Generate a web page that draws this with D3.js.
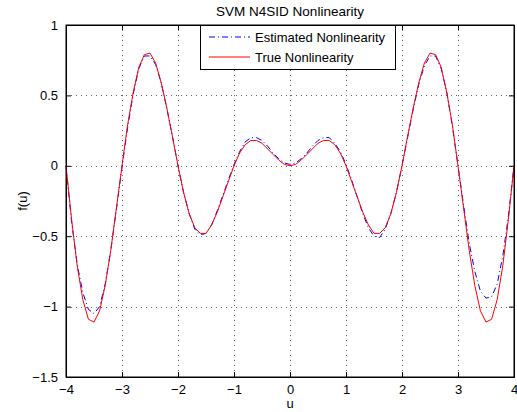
<!DOCTYPE html>
<html>
<head>
<meta charset="utf-8">
<script src="https://cdn.jsdelivr.net/npm/d3@7"></script>
<style>
  body { margin: 0; background: #fff; }
  text { font-family: "Liberation Sans", Arial, sans-serif; fill: #000; }
</style>
</head>
<body>
<div id="chart"></div>
<script>
// input grid
var uValues = [-4.0, -3.9, -3.8, -3.7, -3.6, -3.5, -3.4, -3.3, -3.2, -3.1,
    -3.0, -2.9, -2.8, -2.7, -2.6, -2.5, -2.4, -2.3, -2.2, -2.1,
    -2.0, -1.9, -1.8, -1.7, -1.6, -1.5, -1.4, -1.3, -1.2, -1.1,
    -1.0, -0.9, -0.8, -0.7, -0.6, -0.5, -0.4, -0.3, -0.2, -0.1,
    0.0, 0.1, 0.2, 0.3, 0.4, 0.5, 0.6, 0.7, 0.8, 0.9,
    1.0, 1.1, 1.2, 1.3, 1.4, 1.5, 1.6, 1.7, 1.8, 1.9,
    2.0, 2.1, 2.2, 2.3, 2.4, 2.5, 2.6, 2.7, 2.8, 2.9,
    3.0, 3.1, 3.2, 3.3, 3.4, 3.5, 3.6, 3.7, 3.8, 3.9, 4.0];

// true nonlinearity
var trueValues = [0, -0.38, -0.71, -0.95, -1.09, -1.11, -1.03, -0.85, -0.60, -0.30,
    0, 0.29, 0.52, 0.70, 0.79, 0.80, 0.73, 0.59, 0.41, 0.21,
    0, -0.19, -0.34, -0.44, -0.48, -0.48, -0.42, -0.33, -0.22, -0.11,
    0, 0.09, 0.15, 0.18, 0.18, 0.16, 0.12, 0.08, 0.04, 0.01,
    0, 0.01, 0.04, 0.08, 0.12, 0.16, 0.18, 0.18, 0.15, 0.09,
    0, -0.11, -0.22, -0.33, -0.42, -0.48, -0.48, -0.44, -0.34, -0.19,
    0, 0.21, 0.41, 0.59, 0.73, 0.80, 0.79, 0.70, 0.52, 0.29,
    0, -0.30, -0.60, -0.85, -1.03, -1.11, -1.09, -0.95, -0.71, -0.38, 0];

// estimated nonlinearity
var estValues = [0, -0.40, -0.70, -0.90, -1.02, -1.05, -1.00, -0.84, -0.60, -0.31,
    -0.01, 0.27, 0.51, 0.69, 0.78, 0.78, 0.72, 0.59, 0.41, 0.21,
    0, -0.19, -0.34, -0.45, -0.49, -0.48, -0.42, -0.32, -0.21, -0.10,
    0.01, 0.10, 0.17, 0.20, 0.20, 0.18, 0.14, 0.09, 0.05, 0.02,
    0.01, 0.02, 0.05, 0.09, 0.14, 0.18, 0.20, 0.20, 0.16, 0.10,
    0.01, -0.10, -0.22, -0.34, -0.44, -0.50, -0.51, -0.45, -0.34, -0.19,
    0, 0.20, 0.40, 0.58, 0.71, 0.78, 0.78, 0.69, 0.52, 0.28,
    0, -0.28, -0.55, -0.75, -0.89, -0.94, -0.93, -0.84, -0.64, -0.36, 0];

var xTicks = [-4, -3, -2, -1, 0, 1, 2, 3, 4];
var xTickLabels = ["\u22124", "\u22123", "\u22122", "\u22121", "0", "1", "2", "3", "4"];
var yTicks = [-1.5, -1, -0.5, 0, 0.5, 1];
var yTickLabels = ["\u22121.5", "\u22121", "\u22120.5", "0", "0.5", "1"];
var seriesNames = ["Estimated Nonlinearity", "True Nonlinearity"];

var margin = {top: 25, right: 3, bottom: 35, left: 66},
    width = 517 - margin.left - margin.right,
    height = 412 - margin.top - margin.bottom;

var svg = d3.select("#chart")
    .append("svg")
    .attr("width", 517)
    .attr("height", 412)
    .append("g")
    .attr("transform", "translate(" + margin.left + "," + margin.top + ")");

var x = d3.scaleLinear().domain([-4, 4]).range([0, width]);
var y = d3.scaleLinear().domain([-1.5, 1]).range([height, 0]);

// grid
svg.append("g").selectAll("line")
    .data(xTicks.slice(1, -1))
    .enter().append("line")
    .attr("x1", d => Math.round(x(d)) + 0.5).attr("x2", d => Math.round(x(d)) + 0.5)
    .attr("y1", 0).attr("y2", height)
    .attr("stroke", "#666").attr("stroke-width", 1)
    .attr("stroke-dasharray", "1,4");
svg.append("g").selectAll("line")
    .data(yTicks.slice(1, -1))
    .enter().append("line")
    .attr("y1", d => Math.round(y(d)) + 0.5).attr("y2", d => Math.round(y(d)) + 0.5)
    .attr("x1", 0).attr("x2", width)
    .attr("stroke", "#666").attr("stroke-width", 1)
    .attr("stroke-dasharray", "1,4");

// axes (ticks inside, on all four sides)
svg.append("g")
    .attr("transform", "translate(0," + height + ")")
    .call(d3.axisBottom(x).tickValues(xTicks).tickSize(-5).tickPadding(8)
        .tickFormat((d, i) => xTickLabels[i]));
svg.append("g")
    .call(d3.axisTop(x).tickValues(xTicks).tickSize(-5).tickFormat(""));
svg.append("g")
    .call(d3.axisLeft(y).tickValues(yTicks).tickSize(-5).tickPadding(8)
        .tickFormat((d, i) => yTickLabels[i]));
svg.append("g")
    .attr("transform", "translate(" + width + ",0)")
    .call(d3.axisRight(y).tickValues(yTicks).tickSize(-5).tickFormat(""));

svg.selectAll(".domain").attr("stroke", "#000");
svg.selectAll(".tick line").attr("stroke", "#000");
svg.selectAll(".tick text").style("font-size", "13px").attr("fill", "#000");

// curves
var estData = uValues.map((u, i) => [u, estValues[i]]);
var trueData = uValues.map((u, i) => [u, trueValues[i]]);
var line = d3.line().x(d => x(d[0])).y(d => y(d[1]));

svg.append("path")
    .datum(estData)
    .attr("d", line)
    .attr("fill", "none")
    .attr("stroke", "#0000ff")
    .attr("stroke-width", 1)
    .attr("stroke-dasharray", "6,3,1,3");

svg.append("path")
    .datum(trueData)
    .attr("d", line)
    .attr("fill", "none")
    .attr("stroke", "#ff0000")
    .attr("stroke-width", 1);

// box
svg.append("rect")
    .attr("x", 0).attr("y", 0)
    .attr("width", width).attr("height", height)
    .attr("fill", "none").attr("stroke", "#000");

// legend
var legend = svg.append("g").attr("transform", "translate(" + (200 - margin.left) + ",0)");
legend.append("rect")
    .attr("x", 0.5).attr("y", 0.5)
    .attr("width", 195).attr("height", 44)
    .attr("fill", "#fff").attr("stroke", "#000");
var legendStyles = [{color: "#0000ff", dash: "6,3,1,3"}, {color: "#ff0000", dash: null}];
seriesNames.forEach(function(name, i) {
    var ly = 12 + i * 20;
    legend.append("line")
        .attr("x1", 9).attr("x2", 50)
        .attr("y1", ly).attr("y2", ly)
        .attr("stroke", legendStyles[i].color)
        .attr("stroke-dasharray", legendStyles[i].dash);
    legend.append("text")
        .attr("x", 55).attr("y", ly + 4.5)
        .style("font-size", "13px")
        .text(name);
});

// title and axis labels
svg.append("text")
    .attr("x", width / 2).attr("y", -9)
    .attr("text-anchor", "middle")
    .style("font-size", "13.5px")
    .text("SVM N4SID Nonlinearity");

svg.append("text")
    .attr("x", width / 2).attr("y", height + 31)
    .attr("text-anchor", "middle")
    .style("font-size", "13px")
    .text("u");

svg.append("text")
    .attr("transform", "rotate(-90)")
    .attr("x", -height / 2).attr("y", -39)
    .attr("text-anchor", "middle")
    .style("font-size", "13px")
    .text("f(u)");
</script>
</body>
</html>
